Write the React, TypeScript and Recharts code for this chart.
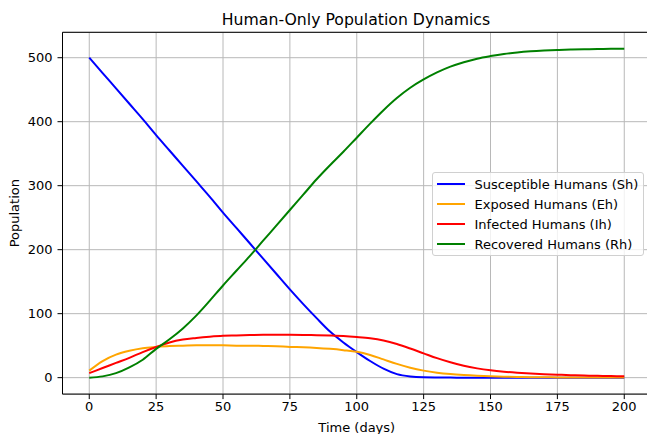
import { LineChart, Line, XAxis, YAxis, CartesianGrid, Legend, Label, ReferenceLine } from "recharts";

const FONT = "DejaVu Sans, Verdana, sans-serif";

// days, sampled every 5
const time = [
  0, 5, 10, 15, 20, 25, 30, 35, 40, 45, 50, 55, 60, 65, 70, 75, 80, 85, 90, 95, 100,
  105, 110, 115, 120, 125, 130, 135, 140, 145, 150, 155, 160, 165, 170, 175, 180, 185, 190, 195, 200,
];

const susceptible = [
  500, 476, 452, 428, 404, 379, 355, 331, 307, 283, 258, 234, 210, 186, 162, 138, 115, 93, 72, 55, 40,
  26, 14, 5.5, 1.8, 0.5, 0.2, 0.1, 0, 0, 0, 0, 0, 0, 0, 0, 0, 0, 0, 0, 0,
];

const exposed = [
  11, 26, 36, 42, 46, 48, 49.5, 50, 50.5, 50.5, 50.5, 50, 50, 49.5, 49, 48, 47.5, 46.5, 45, 43, 40.5,
  35.5, 28.5, 21.5, 15.5, 11, 7.8, 5.6, 4.1, 3, 2.2, 1.6, 1.1, 0.8, 0.6, 0.4, 0.3, 0.2, 0.15, 0.1, 0.1,
];

const infected = [
  7, 15, 23, 31, 40, 48, 55, 59.5, 62, 64, 65.5, 66, 66.5, 67, 67, 67, 66.8, 66.3, 65.8, 65, 63.5,
  61.5, 58, 52.5, 45.5, 38, 30.5, 24, 18.5, 14.5, 11.5, 9.3, 7.7, 6.4, 5.4, 4.6, 3.9, 3.3, 2.8, 2.4, 2.1,
];

const recovered = [
  0, 2, 7, 16, 28, 45, 60, 77, 97, 120, 144, 167, 190, 214, 238, 262, 286, 310, 332, 353, 375,
  397, 418, 437, 453, 466, 477, 486, 493, 498.5, 502.5, 505.8, 508.2, 509.9, 511.1, 512, 512.7, 513.2, 513.6, 513.8, 514,
];

const xTicks = [0, 25, 50, 75, 100, 125, 150, 175, 200];
const yTicks = [0, 100, 200, 300, 400, 500];

const series = [
  { key: "sh", name: "Susceptible Humans (Sh)", color: "#0000ff", values: susceptible },
  { key: "eh", name: "Exposed Humans (Eh)", color: "#ffa500", values: exposed },
  { key: "ih", name: "Infected Humans (Ih)", color: "#ff0000", values: infected },
  { key: "rh", name: "Recovered Humans (Rh)", color: "#008000", values: recovered },
];

const data = time.map((t, i) => {
  const row: Record<string, number> = { t };
  series.forEach((s) => (row[s.key] = s.values[i]));
  return row;
});

// matplotlib-like 5% padding
const allY = series.flatMap((s) => s.values);
const yMin = Math.min(...allY);
const yMax = Math.max(...allY);
const yPad = (yMax - yMin) * 0.05;
const xPad = (time[time.length - 1] - time[0]) * 0.05;

function LegendBox() {
  return (
    <div
      style={{
        border: "1px solid #d0d0d0",
        borderRadius: 3,
        background: "rgba(255,255,255,0.8)",
        padding: "1px 0 1px 4px",
        fontFamily: FONT,
        fontSize: 13,
        color: "#000",
      }}
    >
      {series.map((s) => (
        <div key={s.key} style={{ display: "flex", alignItems: "center", height: 20 }}>
          <span style={{ display: "inline-block", width: 28, height: 2, background: s.color, marginRight: 10 }} />
          <span>{s.name}</span>
        </div>
      ))}
    </div>
  );
}

export default function App() {
  return (
    <div style={{ position: "fixed", left: 0, top: 0, width: 647, height: 434, overflow: "hidden", background: "#fff" }}>
      <div
        style={{
          position: "absolute",
          left: 56,
          width: 600,
          top: 12,
          textAlign: "center",
          fontFamily: FONT,
          fontSize: 15.7,
          lineHeight: "16px",
          color: "#000",
        }}
      >
        Human-Only Population Dynamics
      </div>
      <LineChart width={700} height={434} data={data} margin={{ top: 32.3, right: 49, left: 0, bottom: 0 }}>
        <CartesianGrid stroke="#b8b8b8" strokeWidth={1} />
        <XAxis
          dataKey="t"
          type="number"
          domain={[time[0] - xPad, time[time.length - 1] + xPad]}
          ticks={xTicks}
          allowDataOverflow
          height={39.9}
          tickSize={5}
          tickMargin={3}
          axisLine={{ stroke: "#000" }}
          tickLine={{ stroke: "#000" }}
          tick={{ fill: "#000", fontSize: 13, fontFamily: FONT }}
        >
          <Label
            content={({ viewBox }: any) => (
              <text
                x={(62.5 + 651) / 2}
                y={viewBox.y + 37.5}
                textAnchor="middle"
                fontSize={13}
                fontFamily={FONT}
                fill="#000"
              >
                Time (days)
              </text>
            )}
          />
        </XAxis>
        <YAxis
          type="number"
          domain={[yMin - yPad, yMax + yPad]}
          ticks={yTicks}
          allowDataOverflow
          width={62.5}
          tickSize={5}
          tickMargin={5}
          axisLine={{ stroke: "#000" }}
          tickLine={{ stroke: "#000" }}
          tick={{ fill: "#000", fontSize: 13, fontFamily: FONT }}
        >
          <Label
            content={({ viewBox }: any) => {
              const cx = 19.5;
              const cy = viewBox.y + viewBox.height / 2;
              return (
                <text
                  x={cx}
                  y={cy}
                  transform={`rotate(-90 ${cx} ${cy})`}
                  textAnchor="middle"
                  fontSize={13}
                  fontFamily={FONT}
                  fill="#000"
                >
                  Population
                </text>
              );
            }}
          />
        </YAxis>
        <ReferenceLine y={yMax + yPad} stroke="#000" strokeWidth={1} ifOverflow="visible" />
        {series.map((s) => (
          <Line
            key={s.key}
            dataKey={s.key}
            name={s.name}
            stroke={s.color}
            strokeWidth={2}
            dot={false}
            type="monotone"
            isAnimationActive={false}
          />
        ))}
        <Legend
          layout="vertical"
          align="center"
          verticalAlign="middle"
          content={LegendBox}
          wrapperStyle={{ position: "absolute", left: 431.5, top: 172, width: 212 }}
        />
      </LineChart>
    </div>
  );
}
